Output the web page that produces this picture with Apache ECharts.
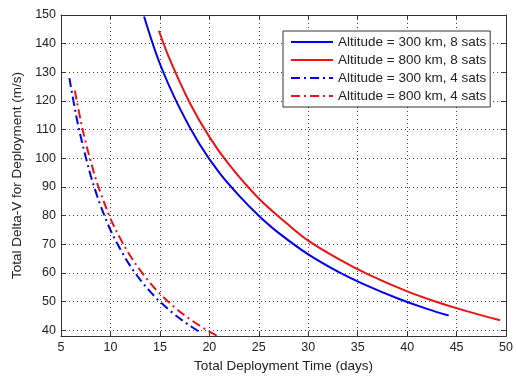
<!DOCTYPE html>
<html>
<head>
<meta charset="utf-8">
<script src="https://cdn.jsdelivr.net/npm/echarts@6/dist/echarts.min.js"></script>
<style>
  html, body { margin: 0; padding: 0; background: #fff; }
  #chart { width: 516px; height: 378px; }
</style>
</head>
<body>
<div id="chart"></div>
<script>
// Deployment time (days) vs. total delta-V (m/s) for each constellation case
const seriesNames = [
  'Altitude = 300 km, 8 sats',
  'Altitude = 800 km, 8 sats',
  'Altitude = 300 km, 4 sats',
  'Altitude = 800 km, 4 sats'
];

const alt300sats8 = [
  [13.4, 149.5], [15, 133], [17, 117.5], [19, 105], [21, 95], [23, 87],
  [25, 80], [27, 74], [30, 66.5], [33, 60.5], [36, 55.5], [39, 51.2],
  [42, 47.5], [44.2, 45.2]
];

const alt800sats8 = [
  [14.9, 144.5], [16, 134.5], [18, 119.5], [20, 107.5], [22, 97.8],
  [25, 86], [28, 76.8], [30, 71.3], [33, 65], [36, 59.6], [40, 53.6],
  [43, 49.9], [46, 46.7], [49.4, 43.5]
];

const alt300sats4 = [
  [5.85, 128], [6.5, 115.5], [7, 107.5], [7.5, 100.5], [8, 94], [8.5, 88.5],
  [9, 83.5], [10, 75], [11, 68.3], [12, 62.5], [13, 57.7], [14, 53.6],
  [15, 50], [16.5, 45.5], [18, 41.7], [19.1, 39.3]
];

const alt800sats4 = [
  [6.4, 123.6], [7, 113], [7.5, 105.5], [8, 99], [8.5, 93], [9, 88],
  [10, 79], [11, 72], [12, 66], [13, 61], [14, 56.6], [15, 52.8],
  [16.5, 48], [18, 44], [19.5, 40.6], [21, 37.7]
];

const yTicks = [40, 50, 60, 70, 80, 90, 100, 110, 120, 130, 140, 150];

const FONT = '"Liberation Sans", Arial, sans-serif';
const frameColor = '#333';
const gridLine = { show: true, lineStyle: { color: '#444', type: [1, 3], width: 1 } };
const dashDot = [9, 4, 2, 4];

const chart = echarts.init(document.getElementById('chart'), null, { renderer: 'canvas' });

function lineSeries(name, data, color, dashed) {
  return {
    name: name,
    type: 'line',
    data: data,
    xAxisIndex: 0,
    yAxisIndex: 0,
    smooth: 0.35,
    symbol: 'none',
    clip: true,
    lineStyle: { color: color, width: 2, type: dashed ? dashDot : 'solid' },
    itemStyle: { color: color },
    animation: false
  };
}

chart.setOption({
  backgroundColor: '#fff',
  animation: false,
  textStyle: { fontFamily: FONT },
  grid: { left: 61, right: 7, top: 15, bottom: 37, containLabel: false },
  legend: {
    orient: 'vertical',
    left: 283,
    top: 31,
    padding: [4, 4, 4, 7],
    itemWidth: 42,
    itemHeight: 12,
    itemGap: 4,
    borderColor: '#333',
    borderWidth: 1,
    backgroundColor: '#fff',
    itemStyle: { opacity: 0 },
    textStyle: { fontFamily: FONT, fontSize: 13.5, color: '#222' },
    data: seriesNames
  },
  xAxis: [
    {
      type: 'value', min: 5, max: 50, interval: 5, position: 'bottom',
      name: 'Total Deployment Time (days)', nameLocation: 'middle', nameGap: 20,
      nameTextStyle: { fontFamily: FONT, fontSize: 13.5, color: '#222' },
      axisLine: { show: true, lineStyle: { color: frameColor, width: 1 } },
      axisTick: { show: true, inside: true, length: 4, lineStyle: { color: frameColor } },
      axisLabel: { fontFamily: FONT, fontSize: 12.5, color: '#222', margin: 5 },
      splitLine: gridLine
    },
    {
      type: 'value', min: 5, max: 50, interval: 5, position: 'top',
      axisLine: { show: true, lineStyle: { color: frameColor, width: 1 } },
      axisTick: { show: true, inside: true, length: 4, lineStyle: { color: frameColor } },
      axisLabel: { show: false },
      splitLine: { show: false }
    }
  ],
  yAxis: [
    {
      type: 'value', min: 38, max: 150, position: 'left',
      name: 'Total Delta-V for Deployment (m/s)', nameLocation: 'middle', nameGap: 32,
      nameTextStyle: { fontFamily: FONT, fontSize: 13.5, color: '#222' },
      axisLine: { show: true, lineStyle: { color: frameColor, width: 1 } },
      axisTick: { show: true, inside: true, length: 4, customValues: yTicks, lineStyle: { color: frameColor } },
      axisLabel: { fontFamily: FONT, fontSize: 12.5, color: '#222', margin: 5, customValues: yTicks },
      splitLine: gridLine
    },
    {
      type: 'value', min: 38, max: 150, position: 'right',
      axisLine: { show: true, lineStyle: { color: frameColor, width: 1 } },
      axisTick: { show: true, inside: true, length: 4, customValues: yTicks, lineStyle: { color: frameColor } },
      axisLabel: { show: false, customValues: yTicks },
      splitLine: { show: false }
    }
  ],
  series: [
    lineSeries(seriesNames[0], alt300sats8, '#0000ee', false),
    lineSeries(seriesNames[1], alt800sats8, '#ee1111', false),
    lineSeries(seriesNames[2], alt300sats4, '#0000ee', true),
    lineSeries(seriesNames[3], alt800sats4, '#ee1111', true)
  ]
});
</script>
</body>
</html>
